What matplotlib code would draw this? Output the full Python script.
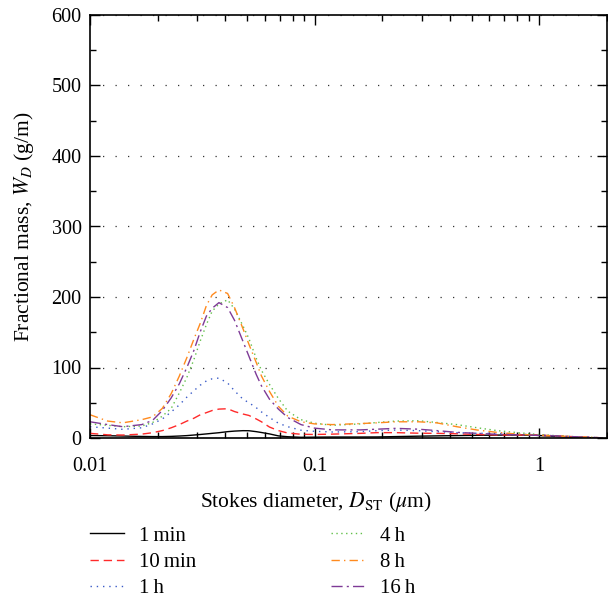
import matplotlib
matplotlib.use("Agg")
import matplotlib.pyplot as plt
from matplotlib.ticker import FixedLocator, MultipleLocator, LogLocator, NullFormatter

plt.rcParams['font.family'] = ['Liberation Serif', 'DejaVu Serif']
plt.rcParams['mathtext.fontset'] = 'stix'
plt.rcParams['font.size'] = 15

# Stokes diameter (um)
diam = [0.010, 0.012, 0.014, 0.017, 0.019, 0.021, 0.023, 0.025, 0.027, 0.029,
        0.031, 0.033, 0.035, 0.0375, 0.041, 0.044, 0.048, 0.051, 0.055, 0.058,
        0.063, 0.069, 0.076, 0.087, 0.10, 0.12, 0.16, 0.19, 0.23, 0.29,
        0.35, 0.43, 0.53, 0.65, 0.79, 0.97, 1.23, 1.5, 1.9]

w_1min = [3.5, 3.2, 2.8, 2.2, 2.0, 2.0, 2.3, 2.8, 3.4, 4.2,
          5.0, 5.8, 6.6, 7.5, 9.0, 9.8, 10.4, 10.3, 9.0, 7.8,
          5.8, 3.0, 1.8, 1.0, 1.2, 1.4, 1.4, 1.5, 2.0, 2.6,
          3.0, 3.4, 3.8, 4.1, 4.3, 3.8, 1.8, 0.8, 0.2]
w_10min = [6.6, 4.5, 4.2, 5.5, 7.5, 10.5, 14.5, 19, 24, 28,
           33, 36, 39, 41, 41.5, 37.5, 34, 32, 27, 23,
           15.5, 10.5, 7, 5.3, 5, 5.5, 6.6, 7.6, 7.6, 6.8,
           6.6, 6, 5, 4.3, 4.3, 4.3, 2.8, 1.5, 0.3]
w_1h = [16, 14, 12.3, 14.5, 20, 27, 37, 47, 58, 67,
        75, 81, 84, 85, 78, 67, 55, 50, 43, 37,
        29, 21, 16, 11, 9.5, 8.5, 9, 10.4, 11.3, 10.4,
        9, 7.6, 6.6, 6.6, 5.7, 4.5, 2.8, 1.5, 0.3]
w_4h = [20, 18, 16, 17, 22, 31, 42, 64, 86, 111,
        138, 161, 180, 190, 196, 183, 159, 141, 113, 96,
        76, 56, 38, 26, 21, 18, 20, 22, 24, 24.5,
        22, 19, 14.5, 10.5, 7.8, 5.2, 3, 1.5, 0.3]
w_8h = [33, 24, 21.5, 26, 30, 42, 63, 88, 114, 140,
        163, 188, 203, 210, 205, 185, 155, 133, 107, 88,
        66, 45, 31, 23, 20, 19, 20.5, 21.5, 23, 23,
        21.5, 16, 11.3, 8, 5.7, 3.8, 2.8, 1.5, 0.3]
w_16h = [23, 19, 16, 19, 25, 39, 57, 77, 100, 124,
         151, 173, 184, 192, 185, 167, 137, 116, 90, 74,
         55, 41, 29, 19, 14, 11.5, 11.5, 12.5, 13.7, 12.5,
         10.5, 8, 6.6, 5.2, 4.5, 3.8, 2.8, 1.5, 0.3]

labels = ['1\u2009min', '10\u2009min', '1\u2009h', '4\u2009h', '8\u2009h', '16\u2009h']
series = [w_1min, w_10min, w_1h, w_4h, w_8h, w_16h]
colors = ['black', '#ff2a2a', '#3a5bc7', '#62c04a', '#ff8a1e', '#7e3a96']
styles = ['-', (0, (6, 3.5)), (0, (1, 3.5)), (0, (1, 2.5)), (0, (6, 3, 1, 3)), (0, (8, 3, 1.5, 3))]

fig = plt.figure(figsize=(6.08, 6.0), dpi=100)
ax = fig.add_axes([0.148, 0.27, 0.85, 0.705])

for y, lab, c, ls in zip(series, labels, colors, styles):
    ax.plot(diam, y, color=c, linestyle=ls, linewidth=1.0, label=lab)

ax.set_xscale('log')
ax.set_xlim(0.01, 2.0)
ax.set_ylim(0, 600)
ax.xaxis.set_major_locator(FixedLocator([0.01, 0.1, 1]))
ax.set_xticklabels(['0.01', '0.1', '1'])
ax.xaxis.set_minor_locator(LogLocator(base=10, subs=range(2, 10)))
ax.xaxis.set_minor_formatter(NullFormatter())
ax.yaxis.set_major_locator(MultipleLocator(100))
ax.yaxis.set_minor_locator(MultipleLocator(50))

ax.tick_params(which='both', direction='in', top=True, right=True, width=1.0)
ax.tick_params(which='major', length=7, labelsize=14.5)
ax.tick_params(axis='x', which='major', pad=14)
ax.tick_params(axis='y', which='major', pad=6)
ax.tick_params(which='minor', length=4)
for s in ax.spines.values():
    s.set_linewidth(1.2)

ax.yaxis.grid(True, linestyle=(0, (1, 9)), color='#333333', linewidth=0.9)
ax.set_axisbelow(True)

ax.set_xlabel('Stokes diameter, $D_{\\mathrm{ST}}$ ($\\mu$m)', fontsize=15.5, labelpad=9)
ax.xaxis.set_label_coords(0.437, -0.122)
ax.set_ylabel('Fractional mass, $W_D$ (g/m)', fontsize=15.5, labelpad=11)

fig.legend(loc='upper left', bbox_to_anchor=(0.135, 0.137), ncol=2, frameon=False,
           fontsize=15, handlelength=1.6, columnspacing=6.5, labelspacing=0.32,
           borderaxespad=0, handletextpad=0.72)

fig.savefig('out.png', dpi=100)
